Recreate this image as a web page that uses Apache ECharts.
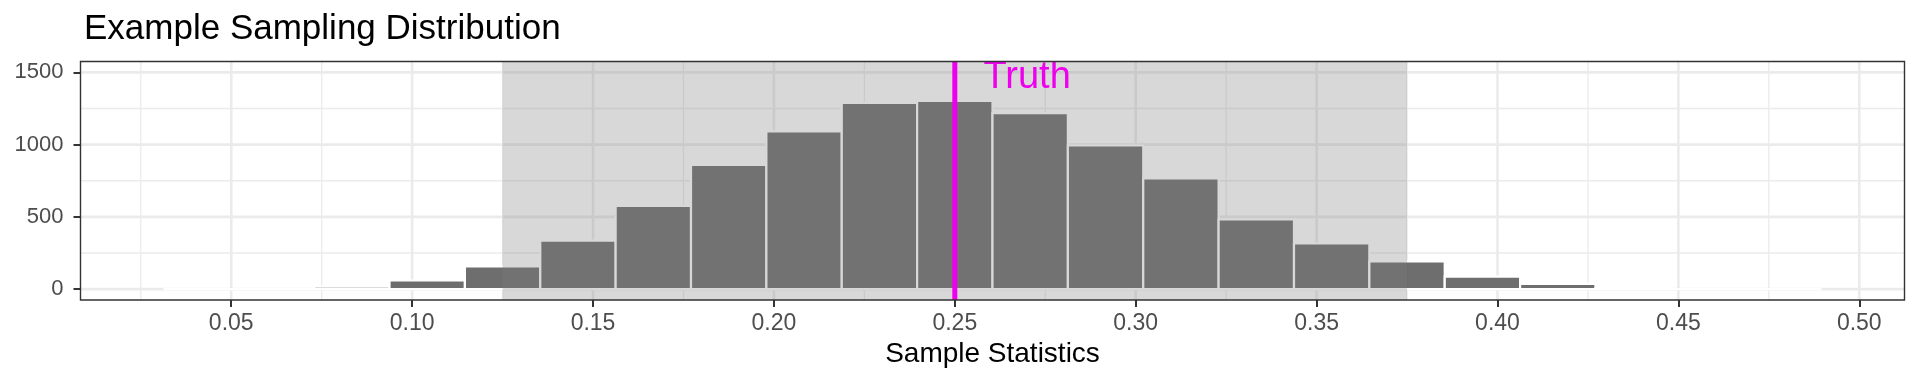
<!DOCTYPE html>
<html><head><meta charset="utf-8">
<script src="https://cdn.jsdelivr.net/npm/echarts@6/dist/echarts.min.js"></script>
<style>html,body{margin:0;padding:0;background:#fff}#c{width:1920px;height:384px}</style>
</head><body><div id="c"></div>
<script>
// ---- data ----
const binCenters = [0.041667, 0.0625, 0.083333, 0.104167, 0.125, 0.145833, 0.166667, 0.1875,
  0.208333, 0.229167, 0.25, 0.270833, 0.291667, 0.3125, 0.333333, 0.354167, 0.375,
  0.395833, 0.416667, 0.4375, 0.458333, 0.479167];
const counts = [0, 0, 18, 60, 157, 336, 576, 860, 1091, 1289, 1303, 1218, 994, 766,
  482, 316, 192, 87, 36, 9, 0, 0];
const binWidth = 0.0208333;
const xTicks = [0.05, 0.10, 0.15, 0.20, 0.25, 0.30, 0.35, 0.40, 0.45, 0.50];
const xMinorTicks = [0.025, 0.075, 0.125, 0.175, 0.225, 0.275, 0.325, 0.375, 0.425, 0.475];
const yTicks = [0, 500, 1000, 1500];
const yMinorTicks = [250, 750, 1250];
const intervalLow = 0.125, intervalHigh = 0.375;
const truthValue = 0.25;
const truthLabel = 'Truth', truthLabelX = 0.27, truthLabelY = 1500;

// ---- scales (ggplot-like 5% expansion) ----
const xLo = binCenters[0] - binWidth / 2, xHi = binCenters[binCenters.length - 1] + binWidth / 2;
const xPad = (xHi - xLo) * 0.05;
const xMin = xLo - xPad, xMax = xHi + xPad;
const yTop = truthLabelY;
const yMin = -yTop * 0.05, yMax = yTop * 1.05;

const FONT = 'Liberation Sans, Arial, Helvetica, sans-serif';
const chart = echarts.init(document.getElementById('c'), null, {renderer: 'canvas'});

const option = {
  animation: false,
  backgroundColor: '#ffffff',
  textStyle: {fontFamily: FONT},
  title: {
    text: 'Example Sampling Distribution', left: 79, top: 7,
    textStyle: {fontFamily: FONT, fontSize: 35, fontWeight: 'normal', color: '#000'}
  },
  grid: {left: 80.5, right: 15.5, top: 61.5, bottom: 84, containLabel: false},
  xAxis: {
    type: 'value', min: xMin, max: xMax,
    axisLine: {show: false, onZero: false},
    splitLine: {show: false},
    axisTick: {show: true, customValues: xTicks, length: 7, lineStyle: {color: '#333', width: 2}},
    axisLabel: {customValues: xTicks, formatter: v => v.toFixed(2), fontSize: 23, color: '#4d4d4d', margin: 12, fontFamily: FONT},
    name: 'Sample Statistics', nameLocation: 'middle', nameGap: 40,
    nameTextStyle: {fontSize: 28, color: '#000', fontFamily: FONT}
  },
  yAxis: {
    type: 'value', min: yMin, max: yMax,
    axisLine: {show: false, onZero: false},
    splitLine: {show: false},
    axisTick: {show: true, customValues: yTicks, length: 7, lineStyle: {color: '#333', width: 2}},
    axisLabel: {customValues: yTicks, formatter: v => String(Math.round(v)), fontSize: 22, color: '#4d4d4d', margin: 17, fontFamily: FONT}
  },
  series: [
    { // gridlines
      type: 'custom', z: 1, silent: true, data: [[0]], encode: {x: 0},
      renderItem(params, api) {
        const cs = params.coordSys;
        const ch = [];
        const addV = (v, w) => {
          const x = api.coord([v, 0])[0];
          ch.push({type: 'line', shape: {x1: x, y1: cs.y, x2: x, y2: cs.y + cs.height}, style: {stroke: '#ebebeb', lineWidth: w}});
        };
        const addH = (v, w) => {
          const y = api.coord([xMin, v])[1];
          ch.push({type: 'line', shape: {x1: cs.x, y1: y, x2: cs.x + cs.width, y2: y}, style: {stroke: '#ebebeb', lineWidth: w}});
        };
        xMinorTicks.forEach(v => addV(v, 1.3));
        yMinorTicks.forEach(v => addH(v, 1.3));
        xTicks.forEach(v => addV(v, 2.6));
        yTicks.forEach(v => addH(v, 2.6));
        return {type: 'group', children: ch};
      }
    },
    { // histogram bars
      type: 'custom', z: 2, silent: true,
      data: binCenters.map((c, i) => [c, counts[i]]),
      encode: {x: 0, y: 1},
      renderItem(params, api) {
        const c = api.value(0), v = api.value(1);
        const p0 = api.coord([c - binWidth / 2, v]);
        const p1 = api.coord([c + binWidth / 2, 0]);
        return {type: 'rect', shape: {x: p0[0], y: p0[1], width: p1[0] - p0[0], height: p1[1] - p0[1]},
          style: {fill: '#6e6e6e', stroke: '#ffffff', lineWidth: 2.2}};
      }
    },
    { // shaded interval
      type: 'custom', z: 3, silent: true, data: [[intervalLow, intervalHigh]], encode: {x: [0, 1]},
      renderItem(params, api) {
        const a = api.coord([api.value(0), yMax]);
        const b = api.coord([api.value(1), yMin]);
        return {type: 'rect', shape: {x: a[0], y: a[1], width: b[0] - a[0], height: b[1] - a[1]},
          style: {fill: 'rgba(127,127,127,0.3)'}};
      }
    },
    { // truth line + label
      type: 'custom', z: 4, silent: true, clip: true, data: [[truthValue, truthLabelX, truthLabelY]], encode: {x: 0},
      renderItem(params, api) {
        const a = api.coord([api.value(0), yMax]);
        const b = api.coord([api.value(0), yMin]);
        const t = api.coord([api.value(1), api.value(2)]);
        return {type: 'group', children: [
          {type: 'line', shape: {x1: a[0], y1: a[1], x2: b[0], y2: b[1]}, style: {stroke: '#ee00ee', lineWidth: 5}},
          {type: 'text', x: t[0], y: t[1] + 5, style: {text: truthLabel, fill: '#ee00ee', fontSize: 38, fontFamily: FONT, align: 'center', verticalAlign: 'middle'}}
        ]};
      }
    },
    { // panel border
      type: 'custom', z: 10, silent: true, data: [[0]], encode: {x: 0},
      renderItem(params, api) {
        const cs = params.coordSys;
        return {type: 'rect', shape: {x: cs.x, y: cs.y, width: cs.width, height: cs.height},
          style: {fill: 'none', stroke: '#333333', lineWidth: 1.4}};
      }
    }
  ]
};
chart.setOption(option);
</script>
</body></html>
